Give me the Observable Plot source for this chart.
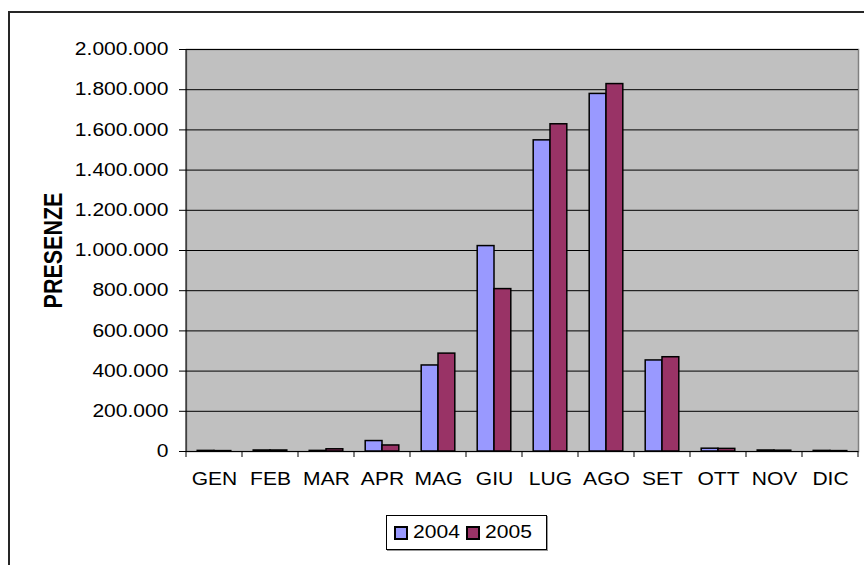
<!DOCTYPE html>
<html>
<head>
<meta charset="utf-8">
<script src="https://cdn.jsdelivr.net/npm/d3@7"></script>
<script src="https://cdn.jsdelivr.net/npm/@observablehq/plot@0.6"></script>
<style>
  html, body { margin: 0; padding: 0; background: #fff; }
  #wrap { position: relative; width: 864px; height: 565px; overflow: hidden; background: #fff;
          font-family: "Liberation Sans", Arial, sans-serif; }
  #outer { position: absolute; left: 8px; top: 11px; width: 900px; height: 600px;
           border-left: 2px solid #262626; border-top: 2px solid #262626; }
  #chart { position: absolute; left: 0; top: 0; }
  #legend { position: absolute; left: 386px; top: 515px; width: 161px; height: 35px; box-sizing: border-box;
            border: 1px solid #000; box-shadow: 1px 1px 0 #999; display: flex; align-items: center;
            padding-left: 7px; font-size: 18px; color: #000; background: #fff; }
  #legend .sw { width: 10px; height: 10px; border: 2px solid #000; margin-right: 5px; flex: none; }
  #legend .lab { display: inline-block; width: 53px; transform: scaleX(1.17); transform-origin: left center; }
</style>
</head>
<body>
<div id="wrap">
  <div id="outer"></div>
  <div id="chart"></div>
  <div id="legend"></div>
</div>
<script>
const months = ["GEN","FEB","MAR","APR","MAG","GIU","LUG","AGO","SET","OTT","NOV","DIC"];
const series = ["2004", "2005"];
const values2004 = [3000, 5000, 3000, 52000, 428000, 1022000, 1548000, 1779000, 453000, 14000, 5000, 3000];
const values2005 = [2000, 5000, 11000, 30000, 487000, 808000, 1628000, 1828000, 469000, 13000, 4000, 2000];
const seriesColors = ["#9999FF", "#993366"];
const yTicks = [0, 200000, 400000, 600000, 800000, 1000000, 1200000, 1400000, 1600000, 1800000, 2000000];
const yLabel = "PRESENZE";

const data = months.flatMap((m, i) => [
  {month: m, year: series[0], value: values2004[i]},
  {month: m, year: series[1], value: values2005[i]}
]);

const W = 864, H = 565, ML = 186, MR = 6, MT = 49, MB = 114;
const bw = (W - ML - MR) / months.length;
const fmt = d => d3.format(",")(d).replace(/,/g, ".");
const STRETCH = 1.17;

function categoryTicks(index, {x, y}) {
  const g = d3.create("svg:g").attr("stroke", "#000").attr("stroke-width", 1);
  const step = x(months[1]) - x(months[0]);
  const edges = months.map(m => x(m)).concat([x(months[months.length - 1]) + step]);
  const y0 = y(0);
  for (const e of edges) {
    g.append("line").attr("x1", e).attr("x2", e).attr("y1", y0).attr("y2", y0 + 6);
  }
  const x0 = x(months[0]);
  g.append("line").attr("x1", x0).attr("x2", x0).attr("y1", y(yTicks[yTicks.length - 1])).attr("y2", y0);
  return g.node();
}

const chart = Plot.plot({
  width: W, height: H,
  marginLeft: ML, marginRight: MR, marginTop: MT, marginBottom: MB,
  style: {fontFamily: '"Liberation Sans", Arial, sans-serif', color: "#000", background: "transparent", overflow: "visible"},
  x: {domain: months, padding: 0, axis: null},
  y: {domain: [0, 2000000], axis: null},
  color: {domain: series, range: seriesColors},
  marks: [
    Plot.frame({fill: "#C0C0C0", stroke: "#808080", strokeWidth: 1.5}),
    Plot.gridY(yTicks, {stroke: "#000", strokeOpacity: 1, strokeWidth: 1}),
    Plot.barY(data.filter(d => d.year === series[0]), {
      x: "month", y: "value", fill: "year", stroke: "#000", strokeWidth: 1.5,
      insetLeft: bw * 0.2, insetRight: bw * 0.5
    }),
    Plot.barY(data.filter(d => d.year === series[1]), {
      x: "month", y: "value", fill: "year", stroke: "#000", strokeWidth: 1.5,
      insetLeft: bw * 0.5, insetRight: bw * 0.2
    }),
    Plot.ruleY([0], {stroke: "#000", strokeWidth: 1}),
    Plot.axisY(yTicks, {tickSize: 7, tickPadding: 11, tickFormat: fmt, fontSize: 18, label: null}),
    Plot.axisX({tickSize: 0, tickPadding: 21, fontSize: 18, label: null}),
    Plot.text([yLabel], {frameAnchor: "left", textAnchor: "middle", dx: -133, rotate: -90,
                         fontWeight: "bold", fontSize: 21.5, fill: "#000"}),
    categoryTicks
  ]
});
document.getElementById("chart").appendChild(chart);

// Widen glyphs horizontally (the reference's text is horizontally stretched):
// wrap each text in a group that keeps its position, then scale the glyphs.
const isNum = v => v != null && /^-?[\d.]+(e-?\d+)?$/.test(v.trim());
d3.select(chart).selectAll("text").each(function () {
  const t = this.getAttribute("transform") || "";
  let tx = 0, ty = 0;
  const xa = this.getAttribute("x"), ya = this.getAttribute("y");
  if (isNum(xa)) { tx = +xa; this.removeAttribute("x"); }
  if (isNum(ya)) { ty = +ya; this.removeAttribute("y"); }
  const wrapper = document.createElementNS("http://www.w3.org/2000/svg", "g");
  wrapper.setAttribute("transform", `${t} translate(${tx},${ty})`);
  this.parentNode.insertBefore(wrapper, this);
  wrapper.appendChild(this);
  const rotated = /rotate/.test(t);
  this.setAttribute("transform", rotated ? `scale(1,${STRETCH})` : `scale(${STRETCH},1)`);
});

const legend = document.getElementById("legend");
const colorScale = chart.scale("color");
series.forEach((s, i) => {
  const sw = document.createElement("span");
  sw.className = "sw";
  sw.style.background = colorScale.range[i];
  const lab = document.createElement("span");
  lab.className = "lab";
  lab.textContent = s;
  legend.appendChild(sw);
  legend.appendChild(lab);
});
</script>
</body>
</html>
